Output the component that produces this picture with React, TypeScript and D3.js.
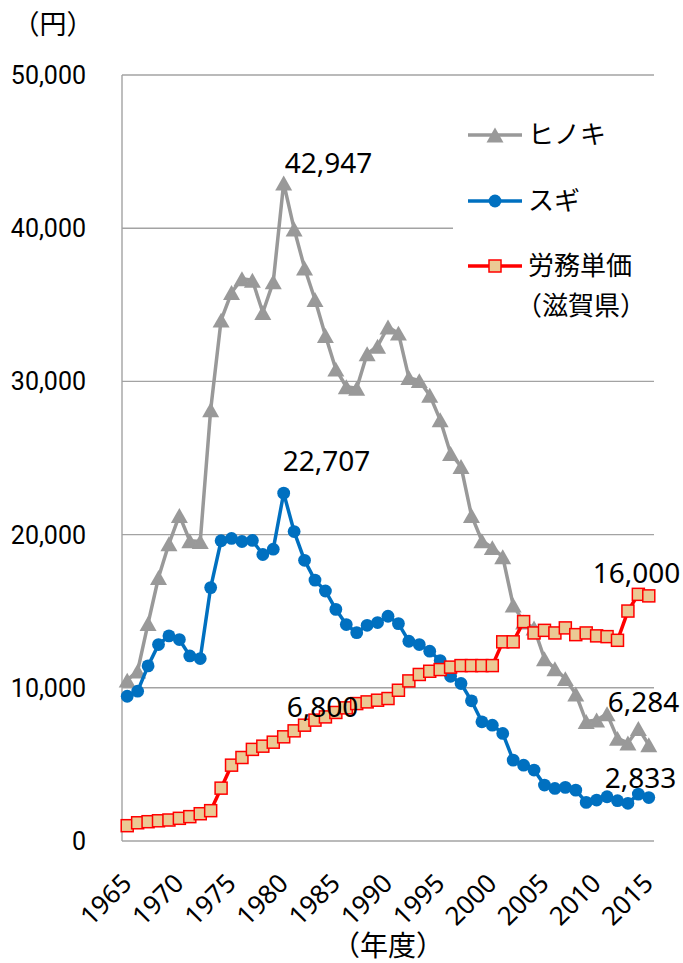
import React from "react";
import * as d3 from "d3";

// 年度
const years: number[] = d3.range(1965, 2016);

// ヒノキ 山元立木価格（円/m3）
const hinoki: number[] = [
  10500, 11100, 14200, 17200, 19400, 21250, 19600, 19550, 28150, 34000,
  35800, 36700, 36600, 34500, 36500, 42947, 39950, 37400, 35350, 33000,
  30800, 29650, 29550, 31800, 32300, 33550, 33150, 30250, 30050, 29100,
  27500, 25300, 24450, 21250, 19600, 19150, 18550, 15400, 14300, 13900,
  11900, 11250, 10600, 9600, 7800, 7900, 8300, 6700, 6400, 7350,
  6284,
];

// スギ 山元立木価格（円/m3）
const sugi: number[] = [
  9450, 9780, 11430, 12820, 13390, 13150, 12080, 11910, 16540, 19600,
  19750, 19550, 19620, 18700, 19050, 22707, 20200, 18320, 17030, 16320,
  15120, 14130, 13600, 14080, 14260, 14670, 14190, 13040, 12820, 12390,
  11780, 10750, 10280, 9150, 7780, 7560, 7020, 5280, 4950, 4630,
  3650, 3430, 3500, 3320, 2520, 2670, 2890, 2630, 2460, 3060,
  2833,
];

// 労務単価（滋賀県, 円/日）
const labor: number[] = [
  1000, 1190, 1260, 1320, 1370, 1480, 1590, 1780, 1980, 3450,
  4950, 5450, 5980, 6190, 6450, 6800, 7190, 7560, 7890, 8100,
  8390, 8690, 8970, 9080, 9190, 9300, 9840, 10450, 10870, 11080,
  11190, 11350, 11450, 11450, 11450, 11450, 13000, 13000, 14320, 13580,
  13750, 13580, 13910, 13470, 13580, 13390, 13340, 13100, 15010, 16100,
  16000,
];

const yTicks: number[] = [0, 10000, 20000, 30000, 40000, 50000];
const xTickYears: number[] = [1965, 1970, 1975, 1980, 1985, 1990, 1995, 2000, 2005, 2010, 2015];

const seriesNames: string[] = ["ヒノキ", "スギ", "労務単価"];

// Values called out on the chart: [series index, year]
const callouts: [number, number][] = [
  [0, 1980],
  [1, 1980],
  [2, 1980],
  [2, 2015],
  [0, 2015],
  [1, 2015],
];
// label offsets from the marker (left edge / vertical centre), same order
const calloutOffsets: [number, number][] = [
  [1, -20],
  [-1, -32],
  [3, -30],
  [-56, -23],
  [-41, -43],
  [-44, -20],
];

const W = 683;
const H = 963;
const M = { left: 122, right: 654, top: 75, bottom: 841 };

const GRID = "#a3a3a3";
const GRAY = "#999999";
const BLUE = "#0070c0";
const RED = "#ff0000";
const TAN = "#ebc994";

const NUM_FONT = "'Noto Sans', 'Open Sans', sans-serif";
const JP_FONT = "'Noto Sans CJK JP', 'Noto Sans', sans-serif";

export default function App() {
  const x = d3
    .scaleBand<number>()
    .domain(years)
    .range([M.left, M.right]);
  const cx = (yr: number) => (x(yr) as number) + x.bandwidth() / 2;
  const y = d3.scaleLinear().domain([0, 50000]).range([M.bottom, M.top]);
  const fmt = d3.format(",");

  const lineGen = d3
    .line<number>()
    .x((_, i) => cx(years[i]))
    .y((d) => y(d));

  const data = [hinoki, sugi, labor];

  const tri = (s: number) => {
    const h = s * 0.88;
    return `M0,${-h / 2}L${s / 2},${h / 2}L${-s / 2},${h / 2}Z`;
  };

  const marker = (k: number, px: number, py: number, key: string | number) => {
    if (k === 0)
      return <path key={key} d={tri(17)} transform={`translate(${px},${py})`} fill={GRAY} />;
    if (k === 1) return <circle key={key} cx={px} cy={py} r={6.4} fill={BLUE} />;
    return (
      <rect
        key={key}
        x={px - 6}
        y={py - 6}
        width={12}
        height={12}
        fill={TAN}
        stroke={RED}
        strokeWidth={1.5}
      />
    );
  };

  const colors = [GRAY, BLUE, RED];

  // legend
  const legX0 = 468;
  const legX1 = 522;
  const legTextX = 528;
  const legY = [135, 201, 266];

  return (
    <svg
      width={W}
      height={H}
      style={{ position: "absolute", left: 0, top: 0, background: "#fff" }}
    >
      <rect x={0} y={0} width={W} height={H} fill="#fff" />

      {/* horizontal grid */}
      {yTicks.map((t) => (
        <line
          key={`g${t}`}
          x1={M.left}
          x2={M.right}
          y1={y(t)}
          y2={y(t)}
          stroke={GRID}
          strokeWidth={1.4}
        />
      ))}
      <line x1={M.left} x2={M.left} y1={M.top} y2={M.bottom} stroke={GRID} strokeWidth={1.4} />

      {/* y tick labels */}
      {yTicks.map((t) => (
        <text
          key={`yl${t}`}
          x={86}
          y={y(t)}
          dy="0.36em"
          textAnchor="end"
          fontFamily="Roboto, 'Liberation Sans', sans-serif"
          fontSize={25}
          fill="#000"
        >
          {fmt(t)}
        </text>
      ))}

      {/* x tick labels */}
      {xTickYears.map((yr) => (
        <text
          key={`xl${yr}`}
          transform={`translate(${cx(yr) + 6},${885}) rotate(-45)`}
          textAnchor="end"
          fontFamily={NUM_FONT}
          fontSize={26}
          fill="#000"
        >
          {yr}
        </text>
      ))}

      {/* axis titles */}
      <text x={53} y={34} textAnchor="middle" fontFamily={JP_FONT} fontSize={27} fill="#000">
        （円）
      </text>
      <text x={388} y={956} textAnchor="middle" fontFamily={JP_FONT} fontSize={28} fill="#000">
        （年度）
      </text>

      {/* legend background */}
      <rect x={453} y={100} width={M.right - 453 + 2} height={228} fill="#fff" />

      {/* series */}
      {data.map((vals, k) => (
        <g key={`s${k}`}>
          <path d={lineGen(vals) ?? ""} fill="none" stroke={colors[k]} strokeWidth={3.5} strokeLinejoin="round" />
          {vals.map((v, i) => marker(k, cx(years[i]), y(v), `m${k}-${i}`))}
        </g>
      ))}

      {/* legend */}
      {seriesNames.map((name, k) => (
        <g key={`lg${k}`}>
          <line x1={legX0} x2={legX1} y1={legY[k]} y2={legY[k]} stroke={colors[k]} strokeWidth={3.5} />
          {marker(k, (legX0 + legX1) / 2, legY[k], `lm${k}`)}
          <text
            x={legTextX}
            y={legY[k]}
            dy="0.36em"
            fontFamily={JP_FONT}
            fontSize={26}
            fill="#000"
          >
            {name}
          </text>
        </g>
      ))}
      <text x={516} y={306} dy="0.36em" fontFamily={JP_FONT} fontSize={26} fill="#000">
        （滋賀県）
      </text>

      {/* value callouts */}
      {callouts.map(([k, yr], j) => {
        const i = years.indexOf(yr);
        const v = data[k][i];
        const [ox, oy] = calloutOffsets[j];
        return (
          <text
            key={`c${j}`}
            x={cx(yr) + ox}
            y={y(v) + oy}
            dy="0.36em"
            fontFamily={NUM_FONT}
            fontSize={28}
            fill="#000"
          >
            {fmt(v)}
          </text>
        );
      })}
    </svg>
  );
}
